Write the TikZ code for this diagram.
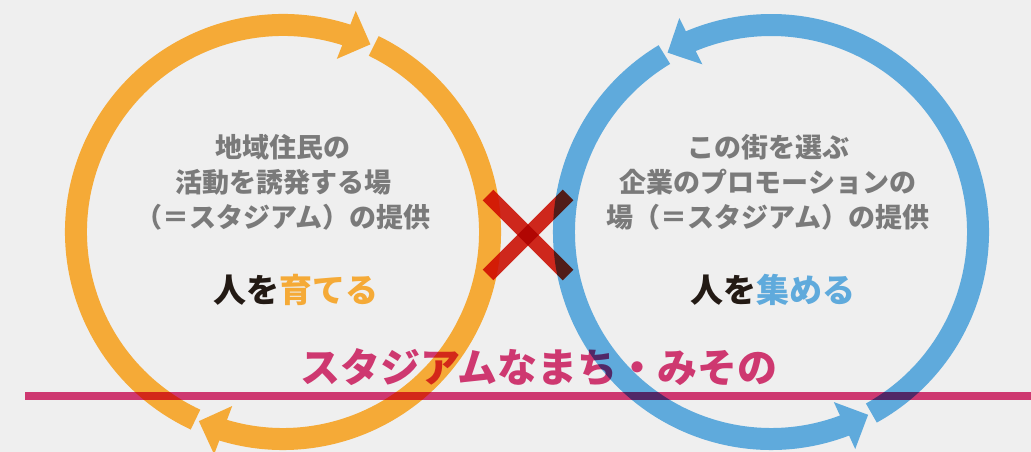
\documentclass[tikz,border=0pt]{standalone}
\usepackage{fontspec}
\newfontfamily\jp{Noto Sans CJK JP}
\usetikzlibrary{arrows.meta,bending}
\definecolor{ringO}{HTML}{F5AA37}
\definecolor{ringB}{HTML}{5FAADC}
\definecolor{lineP}{HTML}{DC3C78}
\definecolor{crossR}{HTML}{DC2A1E}
\definecolor{txtG}{HTML}{7A7A7A}
\definecolor{txtK}{HTML}{231A14}
\definecolor{bgG}{HTML}{EFEFEF}

\begin{document}
\begin{tikzpicture}[x=1pt,y=1pt,
	ring/.style={line width=22pt,-{Triangle[length=26pt,width=50pt]}},
	body/.style={font=\jp\bfseries\fontsize{27}{35}\selectfont,text=txtG,align=center},
	slogan/.style={font=\jp\bfseries\fontsize{33}{40}\selectfont,text=txtK}]
	\useasboundingbox (0,0) rectangle (1031,452);
	\fill[bgG] (0,0) rectangle (1031,452);
	\coordinate (O) at (283,220);
	\coordinate (B) at (771,220);
	% two rings, each of two arrows
	\draw[ring,ringO] ([shift={(245:207)}]O) arc[start angle=245,end angle=65,radius=207];
	\draw[ring,ringO] ([shift={(64:207)}]O) arc[start angle=64,end angle=-114,radius=207];
	\draw[ring,ringB] ([shift={(-61:207)}]B) arc[start angle=-61,end angle=120,radius=207];
	\draw[ring,ringB] ([shift={(121:207)}]B) arc[start angle=121,end angle=298,radius=207];
	\node[body] (L) at (283,270) {地域住民の\\活動を誘発する場\\（＝スタジアム）の提供};
	\node[body] (R) at (768,270) {この街を選ぶ\\企業のプロモーションの\\場（＝スタジアム）の提供};
	\node[slogan] (LS) at (296,162) {人を\textcolor{ringO}{育てる}};
	\node[slogan] (RS) at (773,162) {人を\textcolor{ringB}{集める}};
	\begin{scope}[blend mode=multiply]
		\coordinate (P1) at (25,56);
		\coordinate (P2) at (1031,56);
		\draw[lineP,line width=8pt] (P1) -- (P2);
		\node[font=\jp\bfseries\fontsize{40}{40}\selectfont,text=lineP] (T) at (539,85) {スタジアムなまち・みその};
		\coordinate (X1) at (488,257);
		\coordinate (X2) at (568,177);
		\coordinate (X3) at (488,177);
		\coordinate (X4) at (568,257);
		\draw[crossR,line width=15pt] (X1) -- (X2);
		\draw[crossR,line width=15pt] (X3) -- (X4);
	\end{scope}
\end{tikzpicture}
\end{document}
